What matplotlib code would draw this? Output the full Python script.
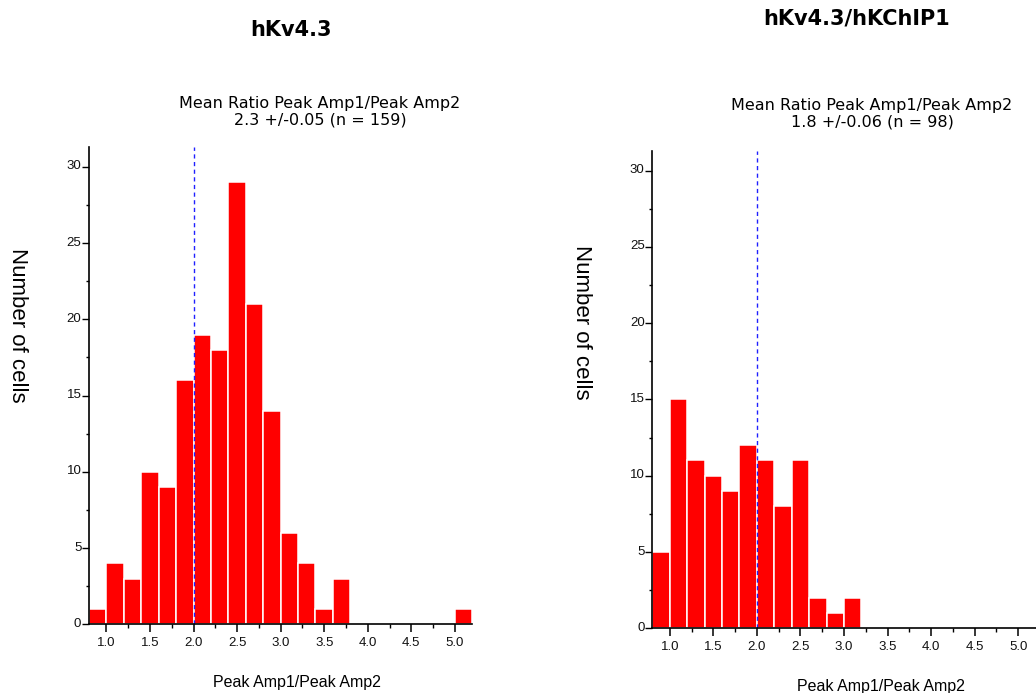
import matplotlib
matplotlib.use("Agg")
import matplotlib.pyplot as plt
from matplotlib.ticker import MultipleLocator, FixedLocator
import matplotlib.transforms as mtransforms

# ---- data ----
bin_starts = [0.8, 1.0, 1.2, 1.4, 1.6, 1.8, 2.0, 2.2, 2.4, 2.6, 2.8,
              3.0, 3.2, 3.4, 3.6, 3.8, 4.0, 4.2, 4.4, 4.6, 4.8, 5.0]
bin_width = 0.2
counts_kv43 = [1, 4, 3, 10, 9, 16, 19, 18, 29, 21, 14,
               6, 4, 1, 3, 0, 0, 0, 0, 0, 0, 1]
counts_kv43_kchip1 = [5, 15, 11, 10, 9, 12, 11, 8, 11, 2, 1,
                      2, 0, 0, 0, 0, 0, 0, 0, 0, 0, 0]
ref_line_x = 2.0
x_ticks = [1.0, 1.5, 2.0, 2.5, 3.0, 3.5, 4.0, 4.5, 5.0]
x_ticklabels = ["1.0", "1.5", "2.0", "2.5", "3.0", "3.5", "4.0", "4.5", "5.0"]
y_ticks = [0, 5, 10, 15, 20, 25, 30]
titles = ["hKv4.3", "hKv4.3/hKChIP1"]
stats = ["Mean Ratio Peak Amp1/Peak Amp2\n2.3 +/-0.05 (n = 159)",
         "Mean Ratio Peak Amp1/Peak Amp2\n1.8 +/-0.06 (n = 98)"]
xlabel = "Peak Amp1/Peak Amp2"
ylabel = "Number of cells"

W, H = 1036, 693
fig = plt.figure(figsize=(W / 100, H / 100), dpi=100)

def fx(px):
    return px / W

def fy(py):
    return 1 - py / H

axes_px = [(89, 472.3, 147, 624.3), (652.3, 1035.7, 150.7, 628.3)]
title_pos = [(291, 30), (857, 19)]
stats_pos = [(320, 112), (872, 114)]
xlabel_pos = [(297, 683), (881, 686)]
ylabel_pos = [(17, 325), (581, 322)]

sans = ["Liberation Sans", "DejaVu Sans"]

for i, counts in enumerate([counts_kv43, counts_kv43_kchip1]):
    x0, x1, yt, yb = axes_px[i]
    ax = fig.add_axes([fx(x0), fy(yb), fx(x1) - fx(x0), fy(yt) - fy(yb)])
    xs = [b for b, c in zip(bin_starts, counts) if c > 0]
    hs = [c for c in counts if c > 0]
    ax.bar(xs, hs, width=bin_width, align="edge", color="#ff0000",
           edgecolor="white", linewidth=1.1, zorder=2)
    ax.axvline(ref_line_x, color="#2020ff", linestyle=(0, (3, 2.5)),
               linewidth=1.0, zorder=3)
    ax.set_xlim(0.8, 5.2)
    ax.set_ylim(0, 31.3)
    for s in ["top", "right"]:
        ax.spines[s].set_visible(False)
    for s in ["left", "bottom"]:
        ax.spines[s].set_linewidth(1.2)
        ax.spines[s].set_zorder(4)
    ax.xaxis.set_major_locator(FixedLocator(x_ticks))
    ax.set_xticklabels(x_ticklabels)
    ax.xaxis.set_minor_locator(MultipleLocator(0.25))
    ax.yaxis.set_major_locator(FixedLocator(y_ticks))
    ax.yaxis.set_minor_locator(MultipleLocator(2.5))
    ax.tick_params(axis="x", which="major", direction="out", length=6,
                   width=1.1, pad=3, labelsize=9.5)
    ax.tick_params(axis="x", which="minor", direction="out", length=3,
                   width=1.0)
    ax.tick_params(axis="y", which="major", direction="out", length=5,
                   width=1.0, pad=0.5, labelsize=9.5)
    ax.tick_params(axis="y", which="minor", direction="out", length=2,
                   width=1.0)
    for lab in ax.get_xticklabels() + ax.get_yticklabels():
        lab.set_family(sans)
        lab.set_color("#111111")
    off = mtransforms.ScaledTranslation(0, 2 / 100, fig.dpi_scale_trans)
    for lab in ax.get_yticklabels():
        lab.set_transform(lab.get_transform() + off)

    tx, ty = title_pos[i]
    fig.text(fx(tx), fy(ty), titles[i], ha="center", va="center",
             fontsize=15, fontweight="bold", family="DejaVu Sans")
    sx, sy = stats_pos[i]
    fig.text(fx(sx), fy(sy), stats[i], ha="center", va="center",
             fontsize=11.5, family="DejaVu Sans", linespacing=1.15)
    lx, ly = xlabel_pos[i]
    fig.text(fx(lx), fy(ly), xlabel, ha="center", va="center",
             fontsize=11.5, family=sans)
    yx, yy = ylabel_pos[i]
    fig.text(fx(yx), fy(yy), ylabel, ha="center", va="center",
             rotation=-90, fontsize=16, family=sans)

fig.savefig("out.png", dpi=100)
